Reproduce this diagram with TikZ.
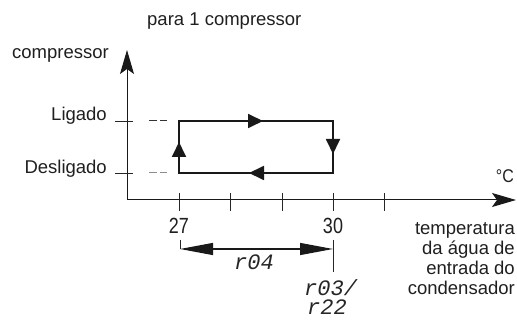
\documentclass[tikz,border=0pt]{standalone}
\usepackage{fontspec}
\setmainfont{Liberation Sans}
\newfontfamily\lcdfont{Liberation Mono}
\usetikzlibrary{arrows.meta}

\begin{document}
\begin{tikzpicture}[x=1pt,y=-1pt,
  lbl/.style={inner sep=0pt, font=\fontsize{18.5}{20}\selectfont, text=black!88},
  numlbl/.style={inner sep=0pt, font=\fontsize{18}{20}\selectfont, text=black!88},
  lcd/.style={inner sep=0pt, font=\lcdfont\itshape\fontsize{22}{19}\selectfont, text=black!85},
  axisline/.style={line width=1pt, black!90, -{Stealth[length=24pt,width=14pt,inset=5pt]}},
  tickline/.style={line width=0.9pt, black!85},
  loopline/.style={line width=1.8pt, black!90},
  flowtip/.style={-{Triangle[length=15pt,width=14pt]}},
  dimline/.style={line width=1.1pt, black!90,
    {Triangle[length=33pt,width=12pt]}-{Triangle[length=33pt,width=12pt]}},
  guide/.style={line width=1pt, dash pattern=on 8pt off 3pt}
]
\useasboundingbox (0,0) rectangle (517,320);

% axes
\coordinate (O) at (127,200);
\coordinate (ytop) at (127,50);
\coordinate (xend) at (516,200);
\draw[axisline] (O) -- (ytop);
\draw[axisline] (O) -- (xend);

% ticks on the temperature axis
\foreach \x in {179,230,282,333,384}
  \draw[tickline] (\x,193) -- (\x,211);
% ticks on the state axis
\draw[tickline] (115,121) -- (133,121);
\draw[tickline] (115,173) -- (133,173);

% dashed guides towards the loop
\draw[guide, black!80] (149,121) -- (167,121);
\draw[guide, black!45] (149,173) -- (167,173);

% hysteresis loop
\coordinate (LL) at (179,173);
\coordinate (UL) at (179,121);
\coordinate (UR) at (333,121);
\coordinate (LR) at (333,173);
\draw[loopline] (LL) -- (UL) -- (UR) -- (LR) -- cycle;
\coordinate (t1) at (263,121);
\coordinate (t2) at (333,154);
\coordinate (t3) at (249,173);
\coordinate (t4) at (179,142);
\draw[loopline, flowtip] (UL) -- (t1);
\draw[loopline, flowtip] (UR) -- (t2);
\draw[loopline, flowtip] (LR) -- (t3);
\draw[loopline, flowtip] (LL) -- (t4);

% differential dimension
\coordinate (d1) at (180,249);
\coordinate (d2) at (333,249);
\coordinate (d1t) at (180,240);
\coordinate (d2t) at (333,240);
\coordinate (d2b) at (333,272);
\draw[tickline] (d1t) -- (d1);
\draw[tickline] (d2t) -- (d2b);
\draw[dimline] (d1) -- (d2);

% labels
\node[lbl, anchor=base west] (title) at (147,26) {para 1 compressor};
\node[lbl, anchor=base east] (yname) at (109,59) {compressor};
\node[lbl, anchor=base east] (on) at (107,121) {Ligado};
\node[lbl, anchor=base east] (off) at (107,174) {Desligado};
\node[lbl, anchor=base east, font=\fontsize{16}{16}\selectfont] (unit) at (514,183)
  {\scalebox{1}[1.15]{°C}};
\node[numlbl, anchor=base] (n27) at (179,234) {\scalebox{1}[1.22]{27}};
\node[numlbl, anchor=base] (n30) at (333,234) {\scalebox{1}[1.22]{30}};
% the base anchor of a multi-line node sits on its last line
\node[lbl, anchor=base east, align=right] (xname) at (515,295)
  {temperatura\\da água de\\entrada do\\condensador};
\node[lcd, anchor=base west] (r04) at (234,270) {r04};
\node[lcd, anchor=base west, align=left] (r0322) at (304,315)
  {r03/\\\hspace*{3pt}r22};
\end{tikzpicture}
\end{document}
